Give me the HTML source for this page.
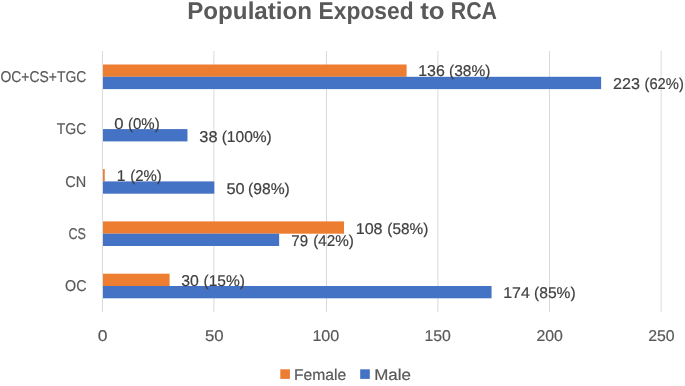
<!DOCTYPE html>
<html><head><meta charset="utf-8"><style>
html,body{margin:0;padding:0;background:#fff;width:685px;height:386px;overflow:hidden}
svg{display:block;will-change:transform;text-rendering:geometricPrecision;font-family:"Liberation Sans",sans-serif}
</style></head><body>
<svg width="685" height="386" viewBox="0 0 685 386">
<rect x="101.9" y="51" width="1" height="261" fill="#D9D9D9"/>
<rect x="213.4" y="51" width="1" height="261" fill="#D9D9D9"/>
<rect x="326.0" y="51" width="1" height="261" fill="#D9D9D9"/>
<rect x="437.4" y="51" width="1" height="261" fill="#D9D9D9"/>
<rect x="549.0" y="51" width="1" height="261" fill="#D9D9D9"/>
<rect x="660.6" y="51" width="1" height="261" fill="#D9D9D9"/>
<rect x="103" y="64.50" width="303.60" height="12.3" fill="#ED7D31"/>
<rect x="103" y="76.80" width="498.13" height="12.3" fill="#4472C4"/>
<rect x="103" y="129.10" width="84.47" height="12.3" fill="#4472C4"/>
<rect x="103" y="169.10" width="1.74" height="12.3" fill="#ED7D31"/>
<rect x="103" y="181.40" width="111.30" height="12.3" fill="#4472C4"/>
<rect x="103" y="221.40" width="240.99" height="12.3" fill="#ED7D31"/>
<rect x="103" y="233.70" width="176.14" height="12.3" fill="#4472C4"/>
<rect x="103" y="273.70" width="66.58" height="12.3" fill="#ED7D31"/>
<rect x="103" y="286.00" width="388.56" height="12.3" fill="#4472C4"/>
<text transform="translate(418.21,76.00) scale(1.0207,1)" font-size="15.6" fill="#404040" stroke="#404040" stroke-width="0.2">136</text>
<text transform="translate(449.07,76.00) scale(0.9949,1)" font-size="15.6" fill="#404040" stroke="#404040" stroke-width="0.2">(38%)</text>
<text transform="translate(613.09,89.00) scale(1.0330,1)" font-size="15.6" fill="#404040" stroke="#404040" stroke-width="0.2">223</text>
<text transform="translate(644.52,89.00) scale(0.9445,1)" font-size="15.6" fill="#404040" stroke="#404040" stroke-width="0.2">(62%)</text>
<text transform="translate(114.33,129.00) scale(1.0661,1)" font-size="15.6" fill="#404040" stroke="#404040" stroke-width="0.2">0</text>
<text transform="translate(128.00,129.00) scale(0.9631,1)" font-size="15.6" fill="#404040" stroke="#404040" stroke-width="0.2">(0%)</text>
<text transform="translate(199.34,142.00) scale(1.0518,1)" font-size="15.6" fill="#404040" stroke="#404040" stroke-width="0.2">38</text>
<text transform="translate(221.67,142.00) scale(0.9967,1)" font-size="15.6" fill="#404040" stroke="#404040" stroke-width="0.2">(100%)</text>
<text transform="translate(116.73,181.00) scale(0.9988,1)" font-size="15.6" fill="#404040" stroke="#404040" stroke-width="0.2">1</text>
<text transform="translate(130.20,181.00) scale(0.9599,1)" font-size="15.6" fill="#404040" stroke="#404040" stroke-width="0.2">(2%)</text>
<text transform="translate(226.45,194.00) scale(1.0456,1)" font-size="15.6" fill="#404040" stroke="#404040" stroke-width="0.2">50</text>
<text transform="translate(248.06,194.00) scale(1.0025,1)" font-size="15.6" fill="#404040" stroke="#404040" stroke-width="0.2">(98%)</text>
<text transform="translate(355.69,234.00) scale(1.0339,1)" font-size="15.6" fill="#404040" stroke="#404040" stroke-width="0.2">108</text>
<text transform="translate(387.28,234.00) scale(0.9848,1)" font-size="15.6" fill="#404040" stroke="#404040" stroke-width="0.2">(58%)</text>
<text transform="translate(291.35,246.00) scale(0.9663,1)" font-size="15.6" fill="#404040" stroke="#404040" stroke-width="0.2">79</text>
<text transform="translate(313.19,246.00) scale(0.9773,1)" font-size="15.6" fill="#404040" stroke="#404040" stroke-width="0.2">(42%)</text>
<text transform="translate(181.27,286.00) scale(1.0144,1)" font-size="15.6" fill="#404040" stroke="#404040" stroke-width="0.2">30</text>
<text transform="translate(203.47,286.00) scale(0.9949,1)" font-size="15.6" fill="#404040" stroke="#404040" stroke-width="0.2">(15%)</text>
<text transform="translate(503.21,298.00) scale(1.0191,1)" font-size="15.6" fill="#404040" stroke="#404040" stroke-width="0.2">174</text>
<text transform="translate(534.06,298.00) scale(0.9999,1)" font-size="15.6" fill="#404040" stroke="#404040" stroke-width="0.2">(85%)</text>
<text transform="translate(0.47,82.00) scale(0.8920,1)" font-size="15.6" fill="#595959" stroke="#595959" stroke-width="0.2">OC+CS+TGC</text>
<text transform="translate(56.72,134.00) scale(0.8974,1)" font-size="15.6" fill="#595959" stroke="#595959" stroke-width="0.2">TGC</text>
<text transform="translate(65.27,187.00) scale(0.9297,1)" font-size="15.6" fill="#595959" stroke="#595959" stroke-width="0.2">CN</text>
<text transform="translate(68.47,239.00) scale(0.8050,1)" font-size="15.6" fill="#595959" stroke="#595959" stroke-width="0.2">CS</text>
<text transform="translate(65.06,291.00) scale(0.9151,1)" font-size="15.6" fill="#595959" stroke="#595959" stroke-width="0.2">OC</text>
<text transform="translate(97.65,341.00) scale(1.1201,1)" font-size="15.6" fill="#595959" stroke="#595959" stroke-width="0.2">0</text>
<text transform="translate(204.98,341.00) scale(1.0767,1)" font-size="15.6" fill="#595959" stroke="#595959" stroke-width="0.2">50</text>
<text transform="translate(312.39,341.00) scale(1.0339,1)" font-size="15.6" fill="#595959" stroke="#595959" stroke-width="0.2">100</text>
<text transform="translate(424.46,341.00) scale(1.0132,1)" font-size="15.6" fill="#595959" stroke="#595959" stroke-width="0.2">150</text>
<text transform="translate(536.41,341.00) scale(1.0175,1)" font-size="15.6" fill="#595959" stroke="#595959" stroke-width="0.2">200</text>
<text transform="translate(648.21,341.00) scale(1.0175,1)" font-size="15.6" fill="#595959" stroke="#595959" stroke-width="0.2">250</text>
<text transform="translate(187.23,19.00) scale(0.9945,1)" font-size="24.3" fill="#595959" font-weight="bold">Population</text>
<text transform="translate(318.62,19.00) scale(0.9373,1)" font-size="24.3" fill="#595959" font-weight="bold">Exposed</text>
<text transform="translate(420.14,19.00) scale(1.0621,1)" font-size="24.3" fill="#595959" font-weight="bold">to</text>
<text transform="translate(450.82,19.00) scale(0.8766,1)" font-size="24.3" fill="#595959" font-weight="bold">RCA</text>
<rect x="280.3" y="369.3" width="9.6" height="9.6" fill="#ED7D31"/>
<text transform="translate(293.95,380.00) scale(1.0045,1)" font-size="15.6" fill="#595959" stroke="#595959" stroke-width="0.2">Female</text>
<rect x="360.2" y="369.3" width="9.6" height="9.6" fill="#4472C4"/>
<text transform="translate(374.14,380.00) scale(1.0872,1)" font-size="15.6" fill="#595959" stroke="#595959" stroke-width="0.2">Male</text>
</svg>
</body></html>
